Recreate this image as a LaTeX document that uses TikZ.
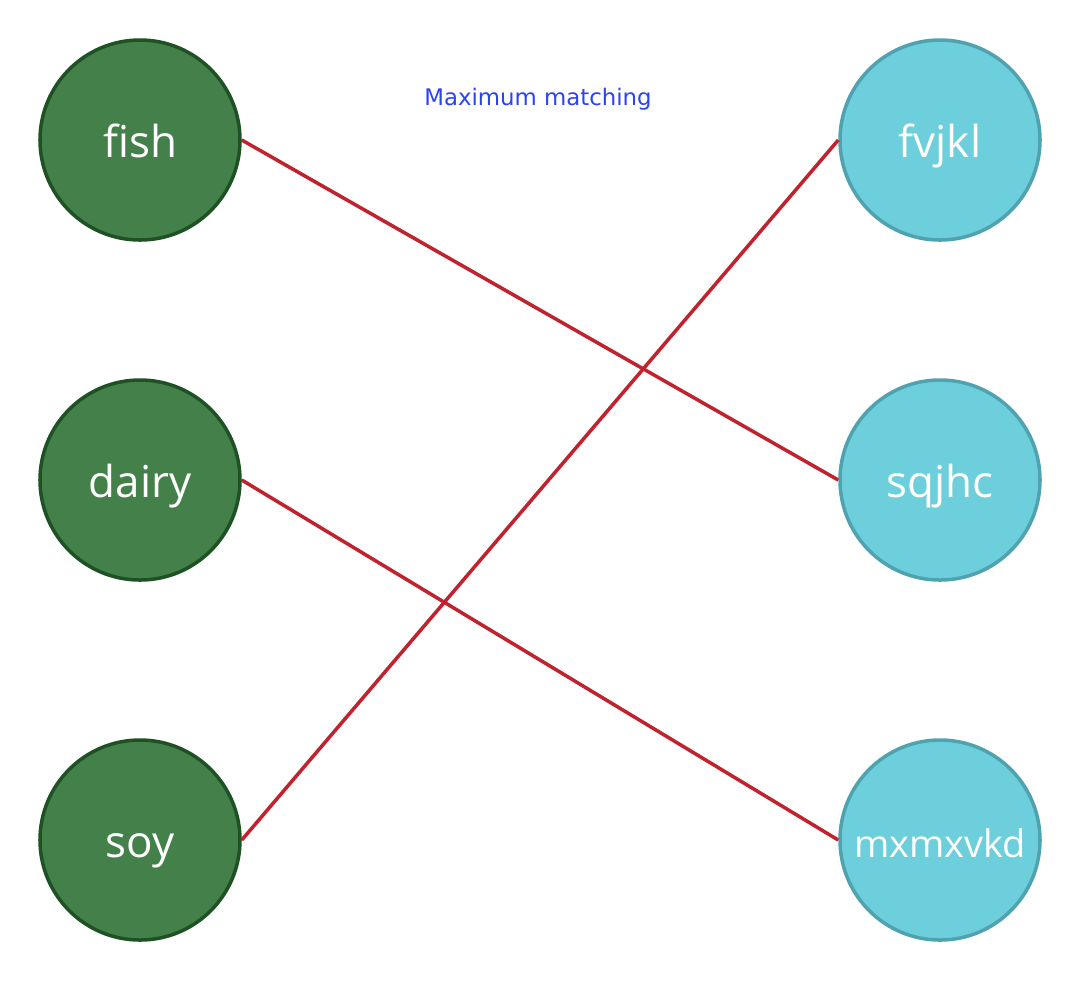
\documentclass[tikz,border=0pt]{standalone}
\usepackage{fontspec}
\setmainfont{Open Sans}
\newfontfamily\titlefont{DejaVu Sans}
\usetikzlibrary{positioning}
\definecolor{leftfill}{HTML}{44814A}
\definecolor{leftdraw}{HTML}{1E5123}
\definecolor{rightfill}{HTML}{6DCFDB}
\definecolor{rightdraw}{HTML}{4FA3B0}
\definecolor{matchred}{HTML}{C0222E}
\definecolor{titleblue}{HTML}{2A44F0}
\tikzset{
  leftnode/.style={circle, minimum size=2cm, inner sep=0pt, text height=10.2pt, text depth=0pt, fill=leftfill, draw=leftdraw, line width=1pt, text=white, font=\fontsize{12.5}{14}\selectfont},
  rightnode/.style={circle, minimum size=2cm, inner sep=0pt, text height=10.2pt, text depth=0pt, fill=rightfill, draw=rightdraw, line width=1pt, text=white, font=\fontsize{12.5}{14}\selectfont},
  titletext/.style={text=titleblue, font=\titlefont\fontsize{6.5}{8}\selectfont},
  match/.style={line width=1pt, matchred}
}
\begin{document}
\begin{tikzpicture}
  \useasboundingbox (0,0) rectangle (10.8,-9.8);
  \node[titletext] (title) at (5.38,-0.99) {Maximum matching};
  \node[leftnode] (fish) at (1.4,-1.4) {fish};
  \node[leftnode] (dairy) at (1.4,-4.8) {dairy};
  \node[leftnode] (soy) at (1.4,-8.4) {soy};
  \node[rightnode] (fvjkl) at (9.4,-1.4) {fvjkl};
  \node[rightnode] (sqjhc) at (9.4,-4.8) {sqjhc};
  \node[rightnode, font=\fontsize{10.8}{12}\selectfont] (mxmxvkd) at (9.4,-8.4) {mxmxvkd};
  \draw[match] (fish.east) -- (sqjhc.west);
  \draw[match] (dairy.east) -- (mxmxvkd.west);
  \draw[match] (soy.east) -- (fvjkl.west);
\end{tikzpicture}
\end{document}
